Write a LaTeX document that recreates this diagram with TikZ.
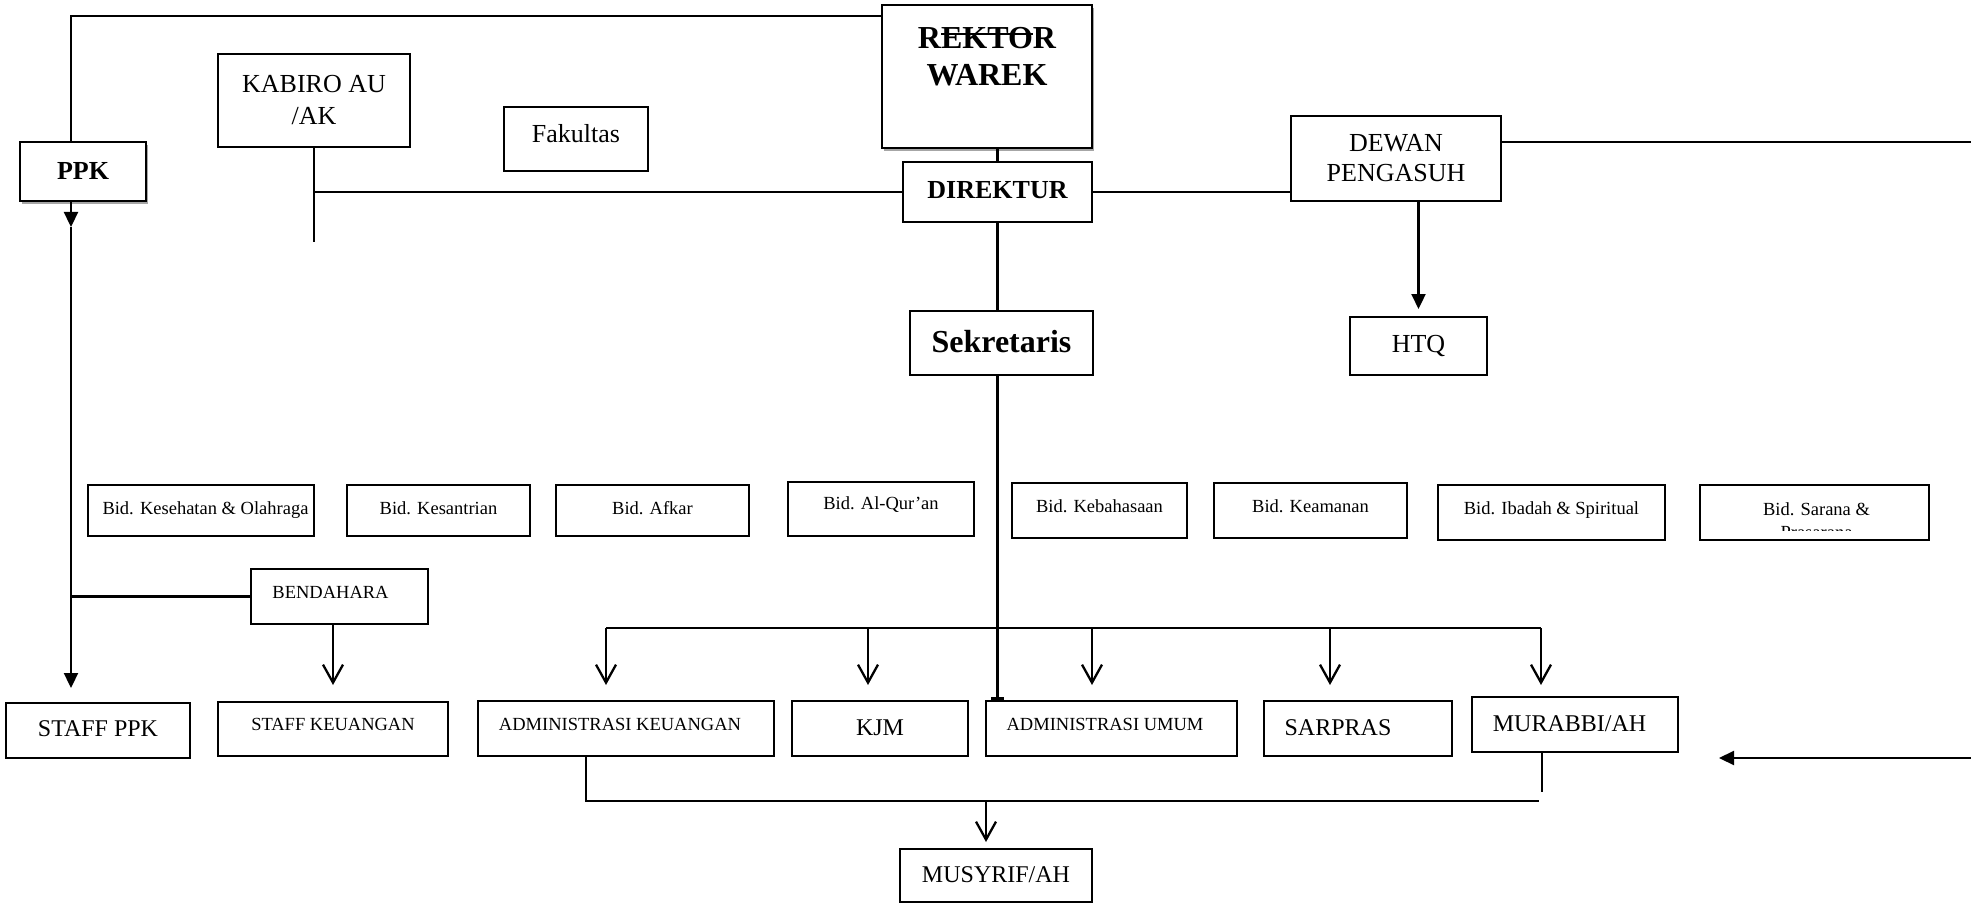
\documentclass[tikz,border=0pt]{standalone}
\usepackage{fontspec}
\setmainfont{Liberation Serif}
\usetikzlibrary{arrows.meta,shadows}
\newsavebox\strkbox
\newcommand\mystrike[1]{\sbox\strkbox{#1}\rlap{\rule[0.40em]{\wd\strkbox}{2pt}}\usebox\strkbox}
\newcommand\fntS{\fontsize{18.5}{23}\selectfont}
\newcommand\fntM{\fontsize{24}{28}\selectfont}
\newcommand\fntL{\fontsize{26}{32}\selectfont}
\newcommand\fntLL{\fontsize{26}{30}\selectfont}
\newcommand\fntB{\bfseries\fontsize{26}{30}\selectfont}
\newcommand\fntH{\bfseries\fontsize{32}{37}\selectfont}
\tikzset{
  bx/.style={draw, line width=2pt, fill=white, inner sep=0pt},
  tb/.style={text height=#1, text depth=0pt},
  wh/.style 2 args={minimum width=#1, minimum height=#2},
  conn/.style={line width=2.3pt},
  fa/.tip={Triangle[length=15pt,width=14pt]},
  oa/.tip={Straight Barb[length=18pt,width=20pt]},
  dshadow/.style={drop shadow={shadow xshift=1.5pt, shadow yshift=-3pt, fill=black!35, opacity=1}}
}
\begin{document}
\begin{tikzpicture}[x=1pt, y=-1pt]
\fill[white] (0,0) rectangle (1971,904);
\useasboundingbox (0,0) rectangle (1971,904);

% top level
\node[bx, dshadow, wh={126pt}{59pt}, tb=17pt, font=\fntB] (PPK) at (83,171.5) {PPK};
\node[bx, wh={192pt}{93pt}, font=\fntL, align=center] (KABIRO) at (314,100.5) {KABIRO AU\\/AK};
\node[bx, wh={144pt}{64pt}, tb=8pt, font=\fntL] (FAK) at (576,139) {Fakultas};
\node[bx, dshadow, wh={210pt}{143pt}, text height=0pt, text depth=22pt, font=\fntH] (REKTOR) at (987,76.5)
  {\begin{tabular}{@{}c@{}}R\mystrike{EKTO}R\\WAREK\end{tabular}};
\node[bx, wh={189pt}{60pt}, tb=13pt, font=\fntB] (DIREKTUR) at (997.5,192) {DIREKTUR};
\node[bx, wh={210pt}{85pt}, font=\fntLL, align=center] (DEWAN) at (1396,158.5) {DEWAN\\PENGASUH};
\node[bx, wh={137pt}{58pt}, tb=13pt, font=\fntL] (HTQ) at (1418.5,346) {HTQ};
\node[bx, wh={183pt}{64pt}, tb=19pt, font=\fntH] (SEKR) at (1001.5,343) {Sekretaris};

% bidang row
\node[bx, wh={226pt}{51pt}, tb=8pt, font=\fntS] (KES) at (201,510.5) {\hspace*{9pt}Bid. Kesehatan \& Olahraga};
\node[bx, wh={183pt}{51pt}, tb=8pt, font=\fntS] (KSN) at (438.5,510.5) {Bid. Kesantrian};
\node[bx, wh={193pt}{51pt}, tb=8pt, font=\fntS] (AFK) at (652.5,510.5) {Bid. Afkar};
\node[bx, wh={186pt}{54pt}, tb=1pt, font=\fntS] (ALQ) at (881,509) {Bid. Al-Qur’an};
\node[bx, wh={175pt}{55pt}, tb=4.4pt, font=\fntS] (KEB) at (1099.5,510.5) {Bid. Kebahasaan};
\node[bx, wh={193pt}{55pt}, tb=4.4pt, font=\fntS] (KEA) at (1310.5,510.5) {Bid. Keamanan};
\node[bx, wh={227pt}{55pt}, tb=4pt, font=\fntS] (IBA) at (1551.5,512.5) {Bid. Ibadah \& Spiritual};
\node[bx, wh={229pt}{55pt}, path picture={
    \begin{scope}
      \clip ([yshift=-1pt]path picture bounding box.north west) rectangle ([yshift=10pt]path picture bounding box.south east);
      \node[font=\fntS, align=center, anchor=north, inner sep=0pt] at ([yshift=-7.5pt,xshift=2pt]path picture bounding box.north) {Bid. Sarana \&\\Prasarana};
    \end{scope}}] (SAR) at (1814.5,512.5) {};

% lower part
\node[bx, wh={177pt}{55pt}, tb=3.6pt, font=\fntS] (BEND) at (339.5,596.5) {BENDAHARA\hspace*{18pt}};
\node[bx, wh={184.5pt}{55pt}, tb=12.4pt, font=\fntM] (STAFFPPK) at (98,730.5) {STAFF PPK};
\node[bx, wh={230pt}{54pt}, tb=2pt, font=\fntS] (STAFFKEU) at (333,729) {STAFF KEUANGAN};
\node[bx, wh={296pt}{55pt}, tb=3pt, font=\fntS] (ADMKEU) at (626,728.5) {ADMINISTRASI KEUANGAN\hspace*{12pt}};
\node[bx, wh={176pt}{55pt}, tb=13pt, font=\fntM] (KJM) at (880,728.5) {KJM};
\node[bx, wh={251pt}{55pt}, tb=3pt, font=\fntS] (ADMUM) at (1111.5,728.5) {ADMINISTRASI UMUM\hspace*{13pt}};
\node[bx, wh={188pt}{55pt}, tb=13pt, font=\fntM] (SARPRAS) at (1358,728.5) {SARPRAS\hspace*{40pt}};
\node[bx, wh={206pt}{55pt}, tb=14.4pt, font=\fntM] (MURABBI) at (1575,724.5) {MURABBI/AH\hspace*{11pt}};
\node[bx, wh={192pt}{53pt}, tb=14.4pt, font=\fntM] (MUSYRIF) at (996,875.5) {MUSYRIF/AH};

% coordinates for free ends / offsets
\coordinate (lx) at (71,16);
\coordinate (pm) at (71,227);
\coordinate (ke) at (314,242);
\coordinate (dr) at (1971,142);
\coordinate (b1) at (606,628);
\coordinate (b2) at (868,628);
\coordinate (b3) at (1092,628);
\coordinate (b4) at (1330,628);
\coordinate (b5) at (1541,628);
\coordinate (bk1) at (586,801);
\coordinate (bk2) at (1539,801);
\coordinate (mb) at (1542,792);
\coordinate (ms) at (986,801);
\coordinate (ra1) at (1971,758);
\coordinate (ra2) at (1719,758);

% connectors
\draw[conn] (PPK.north -| lx) |- (REKTOR.west |- lx);
\draw[conn, -fa] (PPK.south -| lx) -- (pm);
\draw[conn, -fa, shorten >=14pt] (pm) -- (STAFFPPK.north -| lx);
\draw[conn] (BEND.west) -- (BEND.west -| lx);
\draw[conn, -oa, shorten >=16pt] (BEND.south -| STAFFKEU.north) -- (STAFFKEU.north);

\draw[conn] (KABIRO.south) -- (ke);
\draw[conn] (DIREKTUR.west) -- (DIREKTUR.west -| ke);
\draw[conn] (REKTOR.south -| DIREKTUR.north) -- (DIREKTUR.north);
\draw[conn] (DIREKTUR.east) -- (DIREKTUR.east -| DEWAN.west);
\draw[conn] (DEWAN.east |- dr) -- (dr);
\draw[conn, -fa, shorten >=7pt] (DEWAN.south -| HTQ.north) -- (HTQ.north);
\draw[conn] (DIREKTUR.south) -- (DIREKTUR.south |- SEKR.north);
\draw[conn, -{Rectangle[length=3pt,width=13pt]}] (DIREKTUR.south |- SEKR.south) -- (DIREKTUR.south |- ADMUM.north);

\draw[conn] (b1) -- (b5);
\draw[conn, -oa, shorten >=15pt] (b1) -- (b1 |- ADMKEU.north);
\draw[conn, -oa, shorten >=15pt] (b2) -- (b2 |- KJM.north);
\draw[conn, -oa, shorten >=15pt] (b3) -- (b3 |- ADMUM.north);
\draw[conn, -oa, shorten >=15pt] (b4) -- (b4 |- SARPRAS.north);
\draw[conn, -oa, shorten >=11pt] (b5) -- (b5 |- MURABBI.north);

\draw[conn] (ADMKEU.south -| bk1) |- (bk2);
\draw[conn] (MURABBI.south -| mb) -- (mb);
\draw[conn, -oa, shorten >=6pt] (ms) -- (ms |- MUSYRIF.north);
\draw[conn, -fa] (ra1) -- (ra2);
\end{tikzpicture}
\end{document}
